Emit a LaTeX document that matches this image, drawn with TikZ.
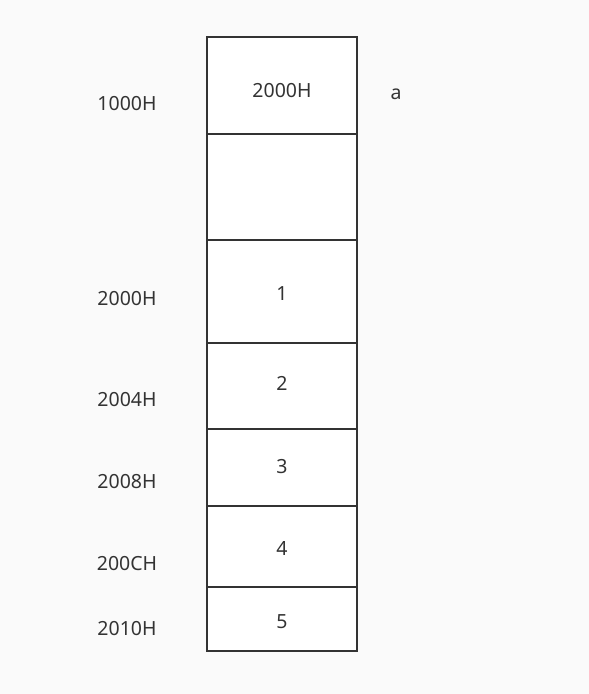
\documentclass[tikz,border=0pt]{standalone}
\usepackage{fontspec}
\setmainfont{Noto Sans}
\usetikzlibrary{positioning}
\definecolor{bgray}{HTML}{FAFAFA}
\definecolor{ink}{HTML}{333333}
\tikzstyle{cell}=[rectangle,draw=ink,fill=white,line width=2.5pt,minimum width=150pt,inner sep=0pt]
\tikzstyle{addr}=[text=ink,font=\fontsize{19.5}{22}\selectfont,inner sep=0pt]

\begin{document}
\begin{tikzpicture}[x=1pt,y=-1pt]
    \useasboundingbox[fill=bgray] (0,0) rectangle (589,694);

    % memory cells, top to bottom, with the value written in each
    \foreach \pos/\hgt/\name/\ty/\txt in {{85.5/97/top/91/2000H}, {187/106/gap/187/}, {291.5/103/one/294/1}, {386/86/two/383/2}, {467.5/77/three/467/3}, {546.5/81/four/548/4}, {619/64/five/622/5}}
    {
        \node[cell,minimum height=\hgt pt] (\name) at (282,\pos) {};
        \node[addr] (\name-val) at (282,\ty) {\txt};
    }

    % addresses on the left
    \foreach \pos/\name/\txt in {{104/a1/1000H}, {299/a2/2000H}, {400/a3/2004H}, {482/a4/2008H}, {564/a5/200CH}, {629/a6/2010H}}
        \node[addr] (\name) at (127,\pos) {\txt};

    \node[addr] (var) at (396,94) {a};
\end{tikzpicture}
\end{document}
